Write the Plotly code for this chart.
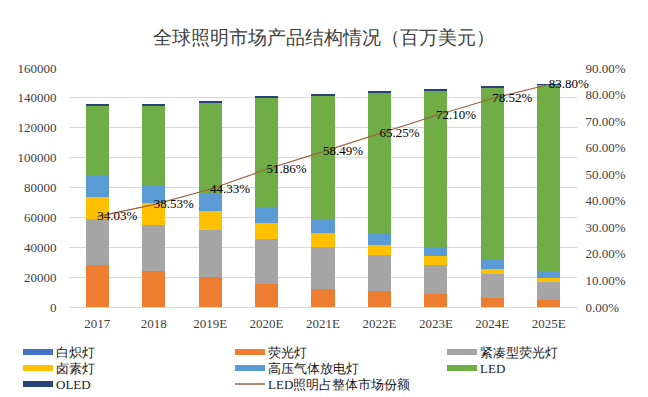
import plotly.graph_objects as go

years = ["2017", "2018", "2019E", "2020E", "2021E", "2022E", "2023E", "2024E", "2025E"]
incandescent = [0, 0, 0, 0, 0, 0, 0, 0, 0]
fluorescent = [27900, 23900, 20100, 15600, 12300, 10500, 8500, 5800, 4500]
cfl = [31200, 31200, 31700, 29700, 27900, 24100, 19800, 16100, 12200]
halogen = [14600, 14800, 12300, 10900, 9400, 6700, 5600, 3800, 2700]
hid = [13800, 12000, 11800, 10300, 8900, 8300, 6300, 5600, 4500]
led = [47300, 52900, 61300, 73900, 83000, 94100, 104900, 115800, 124800]
oled = [900, 900, 400, 600, 700, 700, 500, 700, 400]
led_share = [0.3403, 0.3853, 0.4433, 0.5186, 0.5849, 0.6525, 0.7210, 0.7852, 0.8380]
share_name = "LED照明占整体市场份额"

series = [
    ("白炽灯", incandescent, "#4472C4"),
    ("荧光灯", fluorescent, "#ED7D31"),
    ("紧凑型荧光灯", cfl, "#A5A5A5"),
    ("卤素灯", halogen, "#FFC000"),
    ("高压气体放电灯", hid, "#5B9BD5"),
    ("LED", led, "#70AD47"),
    ("OLED", oled, "#264478"),
]
LINE_COLOR = "#A0603A"
FONT = "Liberation Serif"

W, H = 648, 397
ML, MR, MT, MB = 69, 71, 68, 90
PW, PH = W - ML - MR, H - MT - MB


def px(x):
    return (x - ML) / PW


def py(y):
    return (H - MB - y) / PH


fig = go.Figure()
for name, vals, color in series:
    fig.add_trace(go.Bar(x=years, y=vals, name=name, showlegend=False,
                         marker=dict(color=color, line=dict(width=0))))

fig.add_trace(go.Scatter(
    x=years, y=led_share, name=share_name, yaxis="y2", showlegend=False,
    mode="lines+text", line=dict(color=LINE_COLOR, width=1.2),
    texttemplate="%{y:.2%}", textposition="middle right", cliponaxis=False,
    textfont=dict(family=FONT, size=13, color="#000000"),
))

# legend laid out as in the reference: 3 columns x 3 rows below the plot
col_x = [23, 235, 447]
row_y = [352, 368, 384]
entries = [(n, c, "bar") for n, _, c in series] + [(share_name, LINE_COLOR, "line")]
shapes, annotations = [], []
for i, (name, color, kind) in enumerate(entries):
    x0 = col_x[i % 3]
    yc = row_y[i // 3]
    if kind == "bar":
        shapes.append(dict(type="rect", xref="paper", yref="paper",
                           x0=px(x0), x1=px(x0 + 30), y0=py(yc + 3), y1=py(yc - 3),
                           fillcolor=color, line=dict(width=0)))
    else:
        shapes.append(dict(type="line", xref="paper", yref="paper",
                           x0=px(x0), x1=px(x0 + 30), y0=py(yc), y1=py(yc),
                           line=dict(color="#7B3F1E", width=1.2)))
    annotations.append(dict(text=name, xref="paper", yref="paper", x=px(x0 + 31), y=py(yc),
                            xanchor="left", yanchor="middle", showarrow=False,
                            font=dict(family=FONT, size=13, color="#1A1A1A")))

fig.update_layout(
    width=W, height=H,
    barmode="stack", bargap=0.59,
    paper_bgcolor="white", plot_bgcolor="white",
    margin=dict(l=ML, r=MR, t=MT, b=MB, autoexpand=False),
    font=dict(family=FONT, size=13, color="#404040"),
    showlegend=False,
    title=dict(text="全球照明市场产品结构情况（百万美元）", x=0.5, xref="container", y=0.905, yref="container",
               xanchor="center", yanchor="middle",
               font=dict(family=FONT, size=19, color="#404040")),
    xaxis=dict(showgrid=False, showline=True, linecolor="#D9D9D9",
               ticks="outside", ticklen=4, tickcolor="rgba(0,0,0,0)",
               tickfont=dict(family=FONT, size=13, color="#404040")),
    yaxis=dict(range=[0, 160000], dtick=20000, tickformat="d", showgrid=True, gridcolor="#D9D9D9",
               zeroline=False, ticks="outside", ticklen=9, tickcolor="rgba(0,0,0,0)",
               tickfont=dict(family=FONT, size=13, color="#404040")),
    yaxis2=dict(range=[0, 0.9], dtick=0.1, tickformat=".2%", overlaying="y", side="right",
                showgrid=False, zeroline=False, ticks="outside", ticklen=5, tickcolor="rgba(0,0,0,0)",
                tickfont=dict(family=FONT, size=13, color="#404040")),
    shapes=shapes,
    annotations=annotations,
)

fig.write_html("out.html", config={"displayModeBar": False},
               post_script="document.body.style.margin='0';")
